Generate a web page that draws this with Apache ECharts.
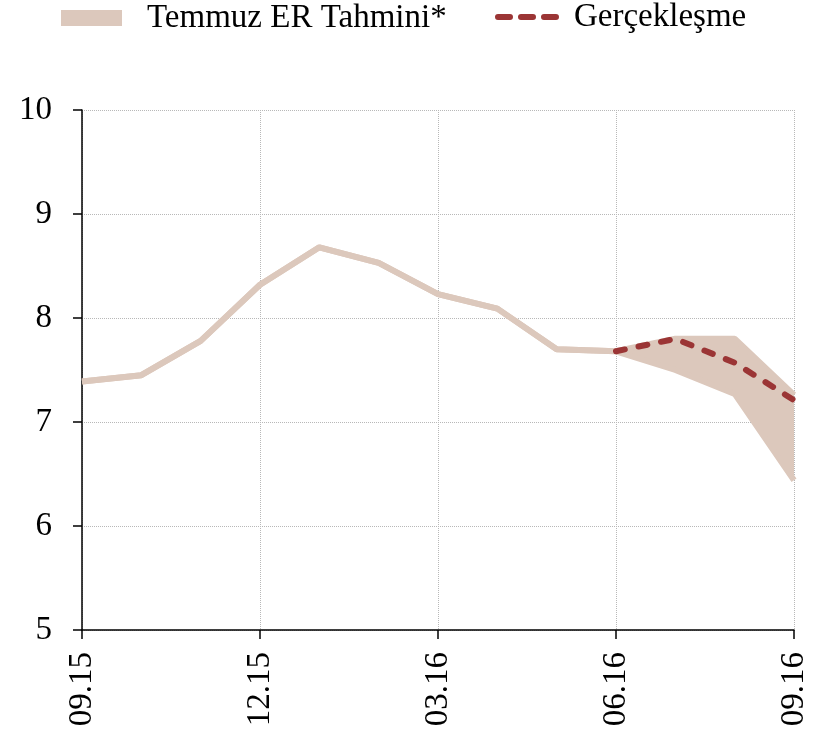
<!DOCTYPE html>
<html>
<head>
  <meta charset="utf-8">
  <title>Temmuz ER Tahmini</title>
  <style>
    html, body { margin: 0; padding: 0; background: #fff; }
    #main { width: 823px; height: 733px; }
  </style>
</head>
<body>
  <div id="main"></div>
</body>
<script src="https://cdn.jsdelivr.net/npm/echarts@6/dist/echarts.min.js"></script>
<script>
let myChart = echarts.init(document.querySelector('#main'))

// aylar
let months = ['09.15', '10.15', '11.15', '12.15', '01.16', '02.16', '03.16',
              '04.16', '05.16', '06.16', '07.16', '08.16', '09.16'];
// tahmin bandı alt / üst
let bandLow  = [7.39, 7.45, 7.78, 8.32, 8.68, 8.53, 8.23, 8.09, 7.70, 7.68, 7.50, 7.27, 6.44];
let bandHigh = [7.39, 7.45, 7.78, 8.32, 8.68, 8.53, 8.23, 8.09, 7.70, 7.68, 7.80, 7.80, 7.26];
// gerçekleşme
let actual = [null, null, null, null, null, null, null, null, null, 7.68, 7.80, 7.57, 7.21];
let yTicks = [5, 6, 7, 8, 9, 10];

let bandColor = '#dcc8bc';
let redColor = '#9b3535';
let font = 'Liberation Serif';

let bandWidth = bandHigh.map((v, i) => +(v - bandLow[i]).toFixed(2));

let option = {
    animation: false,
    legend: [{
        left: 61,
        top: 0,
        padding: 0,
        icon: 'rect',
        itemWidth: 61,
        itemHeight: 16,
        selectedMode: false,
        data: ['Temmuz ER Tahmini*'],
        textStyle: { fontFamily: font, fontSize: 33, lineHeight: 36, color: '#000', padding: [0, 0, 0, 20] }
    }, {
        left: 495,
        top: 0,
        padding: 0,
        icon: 'path://M3,0h12a3,3 0 0 1 0,6h-12a3,3 0 0 1 0,-6z M26,0h12a3,3 0 0 1 0,6h-12a3,3 0 0 1 0,-6z M49,0h12a3,3 0 0 1 0,6h-12a3,3 0 0 1 0,-6z',
        itemWidth: 64,
        itemHeight: 6,
        selectedMode: false,
        data: ['Gerçekleşme'],
        textStyle: { fontFamily: font, fontSize: 33, lineHeight: 34, color: '#000', padding: [0, 0, 0, 10] }
    }],
    grid: {
        left: 82,
        right: 29,
        top: 110,
        bottom: 103,
        containLabel: false
    },
    xAxis: {
        type: 'category',
        boundaryGap: false,
        data: months,
        axisLine: { lineStyle: { color: '#000', width: 1.5 } },
        axisTick: { interval: 2, length: 9, lineStyle: { color: '#000', width: 1.5 } },
        axisLabel: {
            interval: 2,
            rotate: 90,
            margin: 22,
            fontFamily: font,
            fontSize: 33,
            color: '#000'
        },
        splitLine: { show: true, interval: 2, lineStyle: { color: '#b8b8b8', type: 'dotted', width: 1 } }
    },
    yAxis: {
        type: 'value',
        min: yTicks[0],
        max: yTicks[yTicks.length - 1],
        interval: 1,
        axisLine: { show: true, lineStyle: { color: '#000', width: 1.5 } },
        axisTick: { show: true, length: 9, lineStyle: { color: '#000', width: 1.5 } },
        axisLabel: { margin: 30, fontFamily: font, fontSize: 33, color: '#000' },
        splitLine: { lineStyle: { color: '#b8b8b8', type: 'dotted', width: 1 } }
    },
    series: [
        {
            name: 'alt',
            type: 'line',
            stack: 'band',
            symbol: 'none',
            data: bandLow,
            lineStyle: { color: bandColor, width: 6 },
            itemStyle: { color: bandColor },
            areaStyle: { opacity: 0 },
            z: 1
        },
        {
            name: 'Temmuz ER Tahmini*',
            type: 'line',
            stack: 'band',
            symbol: 'none',
            data: bandWidth,
            lineStyle: { color: bandColor, width: 6 },
            itemStyle: { color: bandColor },
            areaStyle: { color: bandColor, opacity: 1 },
            z: 1
        },
        {
            name: 'Gerçekleşme',
            type: 'line',
            symbol: 'none',
            data: actual,
            lineStyle: { color: redColor, width: 6, type: [9, 14], cap: 'round' },
            itemStyle: { color: redColor },
            z: 3
        }
    ]
};
myChart.setOption(option);
</script>
</html>
